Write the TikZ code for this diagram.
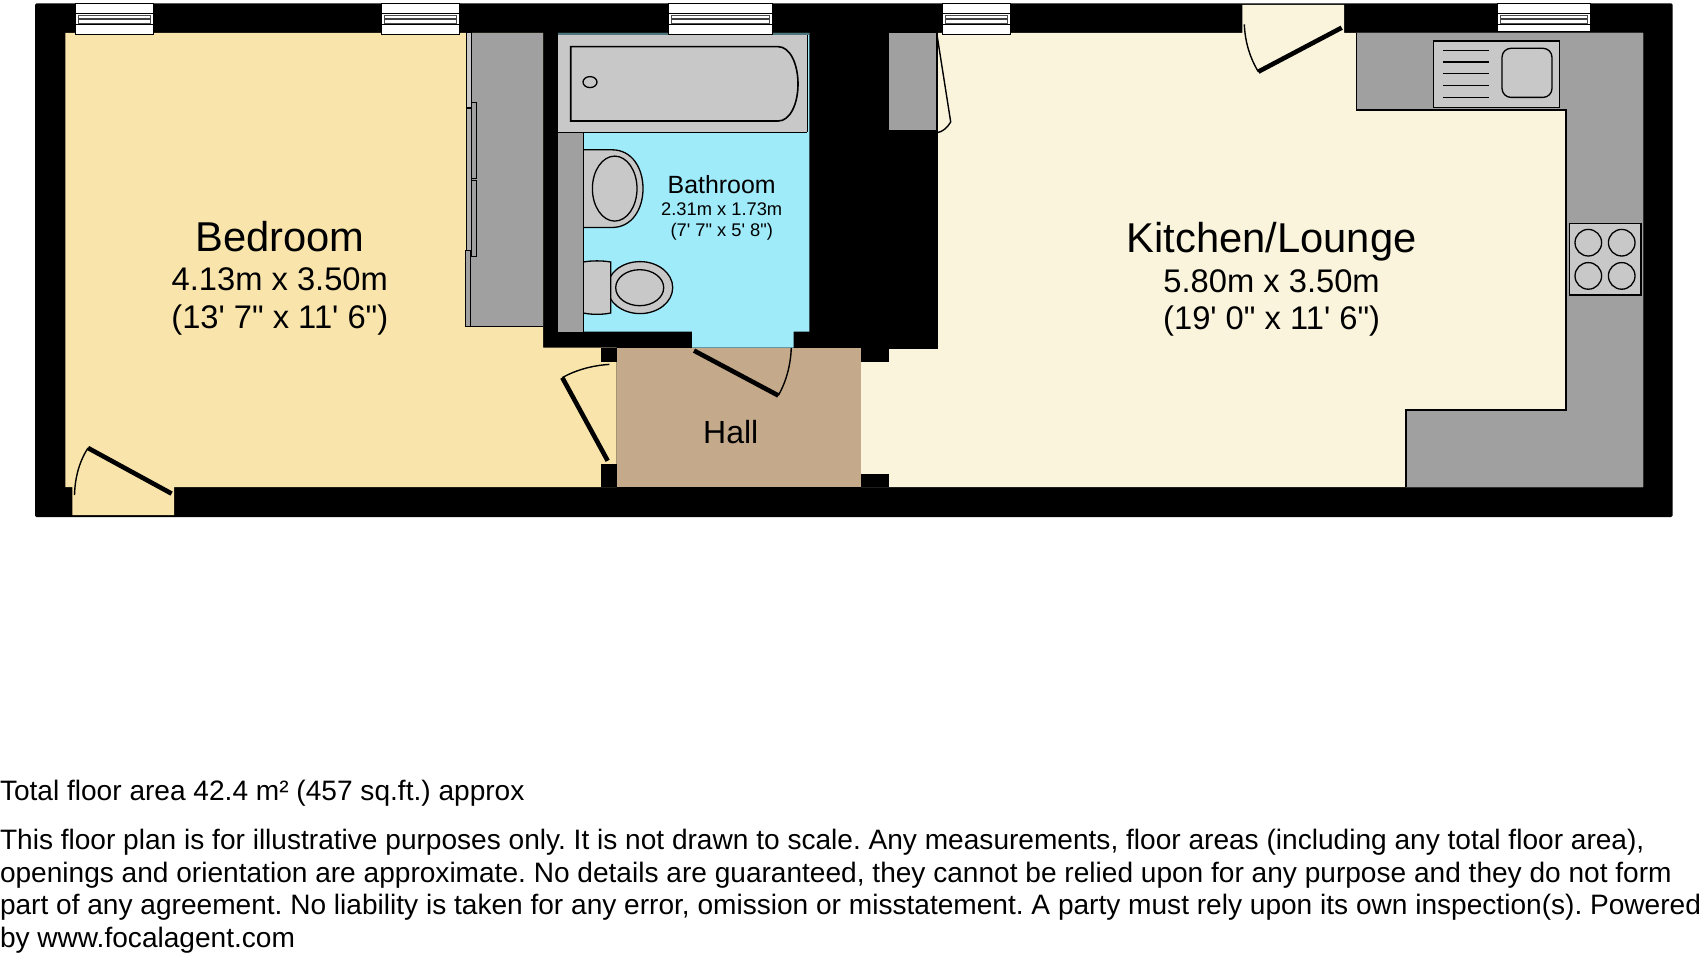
\documentclass[tikz,border=0pt]{standalone}
\usepackage{fontspec}
\newfontfamily\lib{Liberation Sans}
\definecolor{bedfloor}{HTML}{F9E5AC}
\definecolor{kitfloor}{HTML}{FAF4DD}
\definecolor{hallfloor}{HTML}{C4A98A}
\definecolor{bathfloor}{HTML}{9FEBFA}
\definecolor{unit}{HTML}{A0A0A0}
\definecolor{fitting}{HTML}{C8C8C8}
\tikzset{
  outline/.style={draw=black,line width=1.4pt},
  fitbox/.style={fill=fitting,draw=black,line width=1.3pt},
  leaf/.style={draw=black,line width=4.6pt},
  swing/.style={draw=black,line width=1.4pt},
  lbl/.style={inner sep=0pt,outer sep=0pt,anchor=base,text=black},
  legal/.style={inner sep=0pt,outer sep=0pt,anchor=base west,text=black,font=\lib\frenchspacing\fontsize{28.08}{28.08}\selectfont},
  bigt/.style={lbl,font=\lib\fontsize{41.7}{41.7}\selectfont},
  midt/.style={lbl,font=\lib\fontsize{32.7}{32.7}\selectfont},
  batht/.style={lbl,font=\lib\fontsize{24.9}{24.9}\selectfont},
  smallt/.style={lbl,font=\lib\fontsize{18.3}{18.3}\selectfont},
}
\usetikzlibrary{calc}
\newcommand{\winbox}[3]{% x1, x2, bottom
  \fill[white] (#1,3.4) rectangle (#2,#3);
  \draw[black,line width=1pt] (#1,3.4) rectangle (#2,#3);
  \draw[black,line width=1.3pt] (#1,13.5) -- (#2,13.5) (#1,24.3) -- (#2,24.3);
  \draw[black!70,line width=0.9pt] ($(#1,15)+(3,0)$) rectangle ($(#2,23)+(-3,0)$);
  \draw[black!75,line width=1.6pt] ($(#1,19)+(3,0)$) -- ($(#2,19)+(-3,0)$);
}
\begin{document}
\begin{tikzpicture}[x=1pt,y=-1pt]
\useasboundingbox (0,0) rectangle (1704,960);
\fill[white] (0,0) rectangle (1704,960);
% outer shell
\fill[black,rounded corners=1.5pt] (35,3.4) rectangle (1672.7,517);
% floors
\fill[bedfloor] (65.4,33) -- (543,33) -- (543,347.5) -- (616.7,347.5) -- (616.7,487) -- (174,487) -- (174,515) -- (72.3,515) -- (72.3,487) -- (65.4,487) -- cycle;
\fill[kitfloor] (938,33) -- (1242.3,33) -- (1242.3,5) -- (1344,5) -- (1344,33) -- (1643,33) -- (1643,487) -- (861,487) -- (861,349) -- (938,349) -- cycle;
\fill[hallfloor] (616.7,347.5) rectangle (861,487);
\fill[bathfloor] (558,33) -- (809.3,33) -- (809.3,331.6) -- (793.7,331.6) -- (793.7,347.5) -- (692,347.5) -- (692,331.6) -- (558,331.6) -- cycle;
% wall stubs
\fill[black] (601,347.5) rectangle (616.7,362.4);
\fill[black] (601,463.8) rectangle (616.7,487);
\fill[black] (861,347.5) rectangle (889.3,362.4);
\fill[black] (861,474) rectangle (889.3,487);
% bedroom wardrobe
\fill[unit] (465.6,33) rectangle (543,326.6);
\draw[outline] (543,326.6) -- (465.6,326.6) -- (465.6,250);
\draw[outline,line width=1pt] (470.7,326.6) -- (470.7,250);
\draw[line width=1pt,fill=fitting] (466.9,33) rectangle (471.2,108);
\draw[line width=0.9pt,fill=unit!70!fitting] (466.4,108) rectangle (471.5,250);
\draw[line width=0.9pt,fill=unit] (471.5,102.4) rectangle (476.5,178.5);
\draw[line width=0.9pt,fill=unit] (471.5,180) rectangle (476.5,256);
% bath
\fill[black!50!bathfloor] (558.3,33) rectangle (809.3,35.5);
\fill[fitting] (558.3,35.5) rectangle (807.3,132.5);
\draw[black,line width=1pt] (807.3,35.5) -- (807.3,132.5);
\draw[black,line width=1.3pt] (558.3,132.5) -- (807.3,132.5);
\draw[fitbox,line width=1.6pt] (570.7,46.7) -- (778.3,46.7) .. controls (790,46.7) and (798,64) .. (798,84) .. controls (798,104) and (790,121) .. (778.3,121) -- (570.7,121) -- cycle;
\draw[fitbox] (590,82.1) ellipse [x radius=7,y radius=5.5];
% bathroom units
\fill[unit] (558.3,133) rectangle (583.3,331.6);
\draw[fitbox] (583.3,149.8) -- (612,149.8) .. controls (632,149.8) and (643,168) .. (643,188.6) .. controls (643,209) and (632,227.5) .. (612,227.5) -- (583.3,227.5);
\draw[fitbox] (614.7,188.6) ellipse [x radius=22.3,y radius=32.5];
\draw[fitbox] (640,287.6) ellipse [x radius=32.7,y radius=26];
\draw[fitbox] (639.7,287.7) ellipse [x radius=24,y radius=18];
\draw[fitbox] (583.3,262) .. controls (592,260.5) and (602,260.5) .. (610.7,262) -- (610.7,313) .. controls (602,314.8) and (592,314.8) .. (583.3,313);
\draw[outline] (583.3,132.5) -- (583.3,331.6);
% small cupboard by kitchen
\fill[unit] (889,33) rectangle (936.7,130);
\draw[outline] (936.7,33) -- (936.7,130);
% kitchen worktop
\fill[unit] (1356.7,33) -- (1643,33) -- (1643,487) -- (1406,487) -- (1406,410) -- (1566,410) -- (1566,110.2) -- (1356.7,110.2) -- cycle;
\draw[outline] (1356.7,33) -- (1356.7,110.2) -- (1566,110.2) -- (1566,410) -- (1406,410) -- (1406,487);
% sink
\draw[fitbox] (1433.7,41) rectangle (1559.7,107.5);
\draw[black,line width=1.3pt] (1443.3,50.7) -- (1489.3,50.7) (1443.3,61.9) -- (1489.3,61.9) (1443.3,73.7) -- (1489.3,73.7) (1443.3,85.5) -- (1489.3,85.5) (1443.3,97.4) -- (1489.3,97.4);
\draw[fitbox,rounded corners=9pt] (1502,48.3) rectangle (1552,97.4);
% hob
\draw[fitbox] (1569.3,223.8) rectangle (1641,295);
\draw[fitbox] (1588.3,242.7) circle [radius=13.3];
\draw[fitbox] (1621.7,242.7) circle [radius=13.3];
\draw[fitbox] (1588.3,275.9) circle [radius=13.3];
\draw[fitbox] (1621.7,275.9) circle [radius=13.3];
% windows
\winbox{75.2}{153.8}{34.8}
\winbox{381}{459.5}{34.8}
\winbox{668.7}{772}{34.8}
\winbox{942.7}{1010.7}{34.8}
\winbox{1497.7}{1590}{31.4}
% doors
\draw[leaf] (171.6,493.6) -- (88,448);
\draw[swing] (88,448) .. controls (79,462) and (75,478) .. (74.5,495);
\draw[leaf] (607.7,460.8) -- (562.3,377.6);
\draw[swing] (562.3,377.6) .. controls (576,370) and (592,365.5) .. (609.3,364.4);
\draw[leaf] (694,350.6) -- (778.3,395.5);
\draw[swing] (778.3,395.5) .. controls (786,382) and (790.5,366) .. (791.3,348);
\draw[leaf] (1341.7,27.7) -- (1258.3,71.7);
\draw[swing] (1258.3,71.7) .. controls (1250,58) and (1245,42) .. (1244.3,24.3);
\draw[swing] (936.7,33) -- (950.7,122) .. controls (947,128) and (943,131.5) .. (937.3,132.7);
% labels
\node[bigt] (bedroomname) at (279.8,251.2) {Bedroom};
\node[midt] (bedroommetric) at (279.8,290) {4.13m x 3.50m};
\node[midt] (bedroomimperial) at (279.8,328) {(13' 7" x 11' 6")};
\node[bigt] (kitchenname) at (1271.6,252) {Kitchen/Lounge};
\node[midt] (kitchenmetric) at (1271.6,292) {5.80m x 3.50m};
\node[midt] (kitchenimperial) at (1271.6,329.6) {(19' 0" x 11' 6")};
\node[batht] (bathname) at (721.7,193.5) {Bathroom};
\node[smallt] (bathmetric) at (721.7,215) {2.31m x 1.73m};
\node[smallt] (bathimperial) at (721.7,236.3) {(7' 7" x 5' 8")};
\node[lbl,font=\lib\fontsize{32}{32}\selectfont] (hallname) at (730.7,443.8) {Hall};
% legal text
\node[legal] (area) at (0,800.5) {Total floor area 42.4 m² (457 sq.ft.) approx};
\node[legal] (legala) at (0,849.8) {This floor plan is for illustrative purposes only. It is not drawn to scale. Any measurements, floor areas (including any total floor area),};
\node[legal] (legalb) at (0,882.1) {openings and orientation are approximate. No details are guaranteed, they cannot be relied upon for any purpose and they do not form};
\node[legal] (legalc) at (0,914.7) {part of any agreement. No liability is taken for any error, omission or misstatement. A party must rely upon its own inspection(s). Powered};
\node[legal] (legald) at (0,947.2) {by www.focalagent.com};
\end{tikzpicture}
\end{document}
